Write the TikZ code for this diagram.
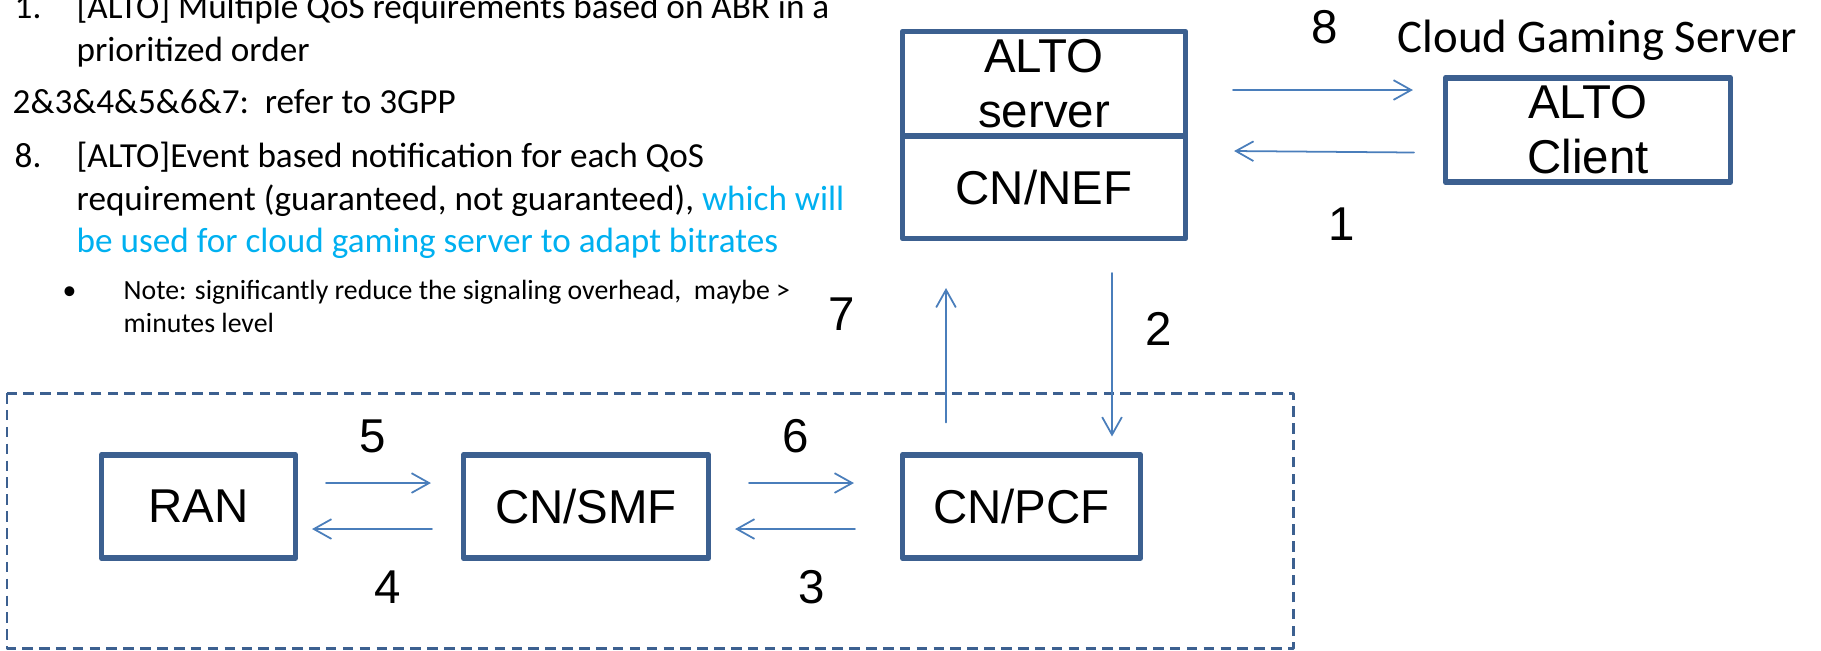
\documentclass[tikz,border=0pt]{standalone}
\usepackage{fontspec}
\setmainfont{Carlito}
\newfontfamily\arialfont{Liberation Sans}
\usetikzlibrary{arrows.meta}
\usetikzlibrary{calc}
\definecolor{boxblue}{HTML}{3C6090}
\definecolor{linkblue}{HTML}{4A7EBB}
\definecolor{notecyan}{HTML}{00B0F0}

\begin{document}
\begin{tikzpicture}[line cap=round,line join=round,>={Straight Barb[length=5pt,width=5.6pt]},x=0.01cm,y=-0.01cm,
    nf/.style={draw=boxblue,line width=1.6pt,inner sep=0pt,outer sep=0pt,align=center,font=\arialfont\fontsize{13.5}{15.6}\selectfont},
    link/.style={->,color=linkblue,line width=0.5pt},
    num/.style={anchor=base,inner sep=0pt,font=\arialfont\fontsize{13.5}{16}\selectfont},
    txt/.style={anchor=base west,inner sep=0pt,font=\fontsize{10}{12}\selectfont},
    small/.style={anchor=base west,inner sep=0pt,font=\fontsize{7.9}{9.5}\selectfont}]
      \useasboundingbox (0,0) rectangle (1821,650);
      \draw[color=boxblue,line width=0.85pt,line cap=butt,dash pattern=on 3pt off 1.8pt] (7,393) rectangle (1293,648);
      % network functions
      \node (ran) [nf,minimum width=1.94cm,minimum height=1.03cm] at (198.5,506.5) {RAN};
      \node (smf) [nf,minimum width=2.45cm,minimum height=1.03cm] at (586,506.5) {CN/SMF};
      \node (pcf) [nf,minimum width=2.38cm,minimum height=1.03cm] at (1021.5,506.5) {CN/PCF};
      \node (alto) [nf,minimum width=2.83cm,minimum height=1.045cm] at (1044,83.75) {ALTO\\server};
      \node (nef) [nf,minimum width=2.83cm,minimum height=1.025cm] at (1044,187.25) {CN/NEF};
      \node (client) [nf,minimum width=2.85cm,minimum height=1.04cm] at (1588,130) {ALTO\\Client};
      \node (cgs) [anchor=base west,inner sep=0pt,font=\fontsize{13.3}{16}\selectfont] at (1397,52) {Cloud Gaming Server};
      % messages
      \draw[link] ($(client.west)+(-31.5,22.5)$) -- ($(nef.east)+(48.5,-36.25)$);
      \draw[link] ($(nef.south)+(68,34.5)$) -- ($(pcf.north)+(90.5,-18.5)$);
      \draw[link] ($(pcf.west)+(-47.5,22.5)$) -- ($(smf.east)+(26.5,22.5)$);
      \draw[link] ($(smf.west)+(-31.5,22.5)$) -- ($(ran.east)+(16.5,22.5)$);
      \draw[link] ($(ran.east)+(30.5,-23.5)$) -- ($(smf.west)+(-32.5,-23.5)$);
      \draw[link] ($(smf.east)+(40.5,-23.5)$) -- ($(pcf.west)+(-48.5,-23.5)$);
      \draw[link] ($(pcf.north)+(-75.5,-32.5)$) -- ($(nef.south)+(-98,49.5)$);
      \draw[link] ($(alto.east)+(47.5,6.25)$) -- ($(client.west)+(-32.5,-40)$);
      \node (n1) [num] at (1341.5,240) {1};
      \node (n2) [num] at (1158.5,345) {2};
      \node (n3) [num] at (812,603) {3};
      \node (n4) [num] at (387.5,603) {4};
      \node (n5) [num] at (372.5,452) {5};
      \node (n6) [num] at (795.5,452) {6};
      \node (n7) [num] at (841.5,330) {7};
      \node (n8) [num] at (1325,43) {8};
      % notes
      \node (i1) [txt] at (14,18) {1.};
      \node (i1a) [txt] at (76,18) {[ALTO] Multiple QoS requirements based on ABR in a};
      \node (i1b) [txt] at (76,61) {prioritized order};
      \node (i2) [txt] at (12,113) {2\&3\&4\&5\&6\&7:\ \ refer to 3GPP};
      \node (i8) [txt] at (14,167) {8.};
      \node (i8a) [txt] at (76,167) {[ALTO]Event based notification for each QoS};
      \node (i8b) [txt] at (76,210) {requirement (guaranteed, not guaranteed), \textcolor{notecyan}{which will}};
      \node (i8c) [txt,text=notecyan] at (76,252) {be used for cloud gaming server to adapt bitrates};
      \node (dot) [small] at (62,299) {\textbullet};
      \node (nt1) [small] at (123,299) {Note: significantly reduce the signaling overhead,\ \ maybe >};
      \node (nt2) [small] at (123,332) {minutes level};
\end{tikzpicture}
\end{document}
